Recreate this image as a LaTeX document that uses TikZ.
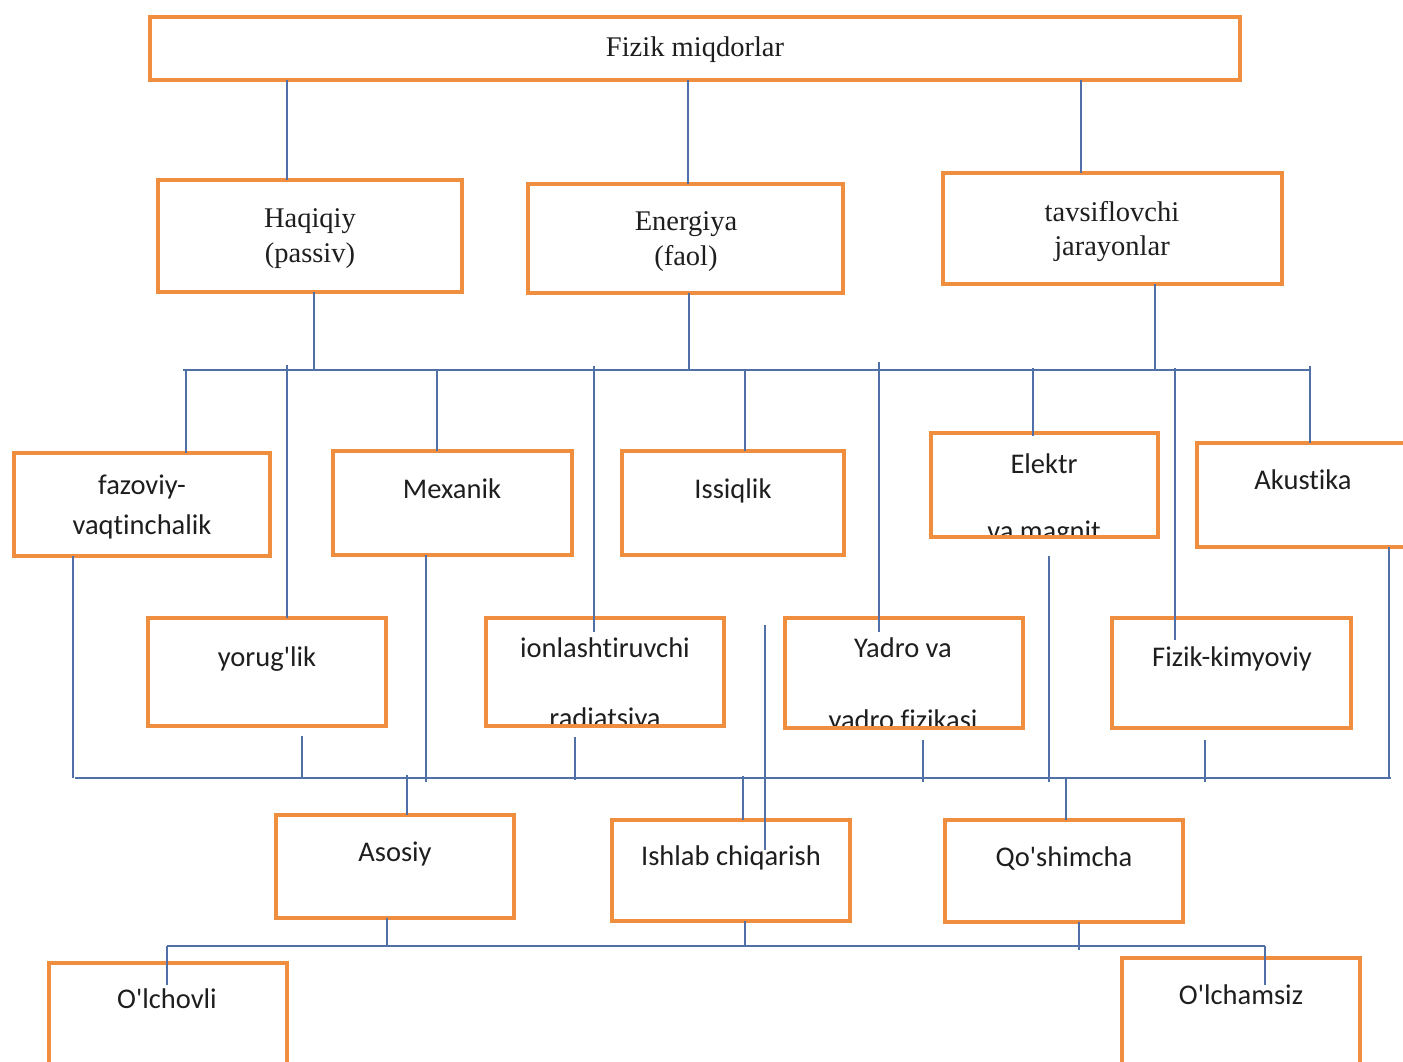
\documentclass[tikz,border=0pt]{standalone}
\usepackage{fontspec}
\setmainfont{Liberation Serif}
\newfontfamily\calfont[Ligatures=NoCommon]{Carlito}
\definecolor{boxor}{RGB}{238,142,62}
\definecolor{lnblue}{RGB}{82,112,168}
\definecolor{txtc}{RGB}{30,30,30}
\tikzset{
  box/.style={draw=boxor, line width=4.5pt, inner sep=0pt, outer sep=0pt},
  conn/.style={draw=lnblue, line width=1.6pt},
  serT/.style={anchor=base, inner sep=0pt, text=txtc, font=\fontsize{28.5}{34}\selectfont},
  sanT/.style={anchor=base, inner sep=0pt, text=txtc, font=\calfont\fontsize{28.5}{34}\selectfont},
}
\begin{document}
\begin{tikzpicture}[x=1pt,y=-1pt]
\useasboundingbox (0,0) rectangle (1403,1061);
% ---------- boxes ----------
\node[box, minimum width=1090pt, minimum height=63pt]  (top) at (695,48.5) {};
\node[box, minimum width=304pt, minimum height=112pt]  (haq) at (310,236) {};
\node[box, minimum width=315pt, minimum height=109pt]  (ene) at (685.5,238.5) {};
\node[box, minimum width=339pt, minimum height=111pt]  (tav) at (1112.5,228.5) {};
\node[box, minimum width=256pt, minimum height=103pt]  (faz) at (142,504.5) {};
\node[box, minimum width=239pt, minimum height=104pt]  (mex) at (452.5,503) {};
\node[box, minimum width=222pt, minimum height=104pt]  (iss) at (733,503) {};
\node[box, minimum width=227pt, minimum height=104pt]  (ele) at (1044.5,485) {};
\node[box, minimum width=213pt, minimum height=104pt]  (aku) at (1303.5,495) {};
\node[box, minimum width=238pt, minimum height=108pt]  (yor) at (267,672) {};
\node[box, minimum width=238pt, minimum height=108pt]  (ion) at (605,672) {};
\node[box, minimum width=238pt, minimum height=110pt]  (yad) at (904,673) {};
\node[box, minimum width=239pt, minimum height=110pt]  (fk)  at (1231.5,673) {};
\node[box, minimum width=238pt, minimum height=103pt]  (aso) at (395,866.5) {};
\node[box, minimum width=238pt, minimum height=101pt]  (ish) at (731,870.5) {};
\node[box, minimum width=238pt, minimum height=102pt]  (qos) at (1064,871) {};
\node[box, minimum width=238pt, minimum height=112pt]  (olv) at (168,1019) {};
\node[box, minimum width=238pt, minimum height=112pt]  (olm) at (1241,1014) {};
% ---------- texts ----------
\node[serT] (topT) at (695,56) {Fizik miqdorlar};
\node[serT] (haqT1) at (310,227) {Haqiqiy};
\node[serT] (haqT2) at (310,262) {(passiv)};
\node[serT] (eneT1) at (686,230) {Energiya};
\node[serT] (eneT2) at (686,265) {(faol)};
\node[serT] (tavT1) at (1112,221) {tavsiflovchi};
\node[serT] (tavT2) at (1112,255) {jarayonlar};
\node[sanT] (fazT1) at (142,494) {fazoviy-};
\node[sanT] (fazT2) at (142,534) {vaqtinchalik};
\node[sanT] (mexT) at (452,498) {Mexanik};
\node[sanT] (issT) at (733,498) {Issiqlik};
\node[sanT] (eleT1) at (1044,473) {Elektr};
\begin{scope}
  \clip ([yshift=2.25pt]ele.south west) rectangle (ele.north east);
  \node[sanT] (eleT2) at (1044,540) {va magnit};
\end{scope}
\node[sanT] (akuT) at (1303,489) {Akustika};
\node[sanT] (yorT) at (267,666) {yorug'lik};
\node[sanT] (ionT1) at (605,657) {ionlashtiruvchi};
\begin{scope}
  \clip ([yshift=2.25pt]ion.south west) rectangle (ion.north east);
  \node[sanT] (ionT2) at (605,727) {radiatsiya};
\end{scope}
\node[sanT] (yadT1) at (903,657) {Yadro va};
\begin{scope}
  \clip ([yshift=2.25pt]yad.south west) rectangle (yad.north east);
  \node[sanT] (yadT2) at (903,729) {yadro fizikasi};
\end{scope}
\node[sanT] (fkT) at (1232,666) {Fizik-kimyoviy};
\node[sanT] (asoT) at (395,861) {Asosiy};
\node[sanT] (ishT) at (731,865) {Ishlab chiqarish};
\node[sanT] (qosT) at (1064,866) {Qo'shimcha};
\node[sanT] (olvT) at (167,1008) {O'lchovli};
\node[sanT] (olmT) at (1241,1004) {O'lchamsiz};
% ---------- connectors: top level ----------
\coordinate (t1) at (287,0);
\coordinate (t2) at (688,0);
\coordinate (t3) at (1081,0);
\draw[conn] (t1 |- top.south) -- (t1 |- haq.north);
\draw[conn] (t2 |- top.south) -- (t2 |- ene.north);
\draw[conn] (t3 |- top.south) -- (t3 |- tav.north);
% ---------- upper bus ----------
\coordinate (b1L) at (183,370);
\coordinate (b1R) at (1311,370);
\draw[conn] (b1L) -- (b1R);
\coordinate (u1) at (314,370);
\coordinate (u2) at (689,370);
\coordinate (u3) at (1155,370);
\draw[conn] (u1 |- haq.south) -- (u1);
\draw[conn] (u2 |- ene.south) -- (u2);
\draw[conn] (u3 |- tav.south) -- (u3);
\coordinate (d1) at (186,370);
\coordinate (d2) at (287,365);
\coordinate (d3) at (437,370);
\coordinate (d4) at (594,366);
\coordinate (d4e) at (594,632);
\coordinate (d5) at (745,370);
\coordinate (d6) at (879,362);
\coordinate (d6e) at (879,632);
\coordinate (d7) at (1033,368);
\coordinate (d8) at (1175,368);
\coordinate (d8e) at (1175,640);
\coordinate (d9) at (1310,366);
\draw[conn] (d1) -- (d1 |- faz.north);
\draw[conn] (d2) -- (d2 |- yor.north);
\draw[conn] (d3) -- (d3 |- mex.north);
\draw[conn] (d4) -- (d4e);
\draw[conn] (d5) -- (d5 |- iss.north);
\draw[conn] (d6) -- (d6e);
\draw[conn] (d7) -- ([yshift=-3pt]d7 |- ele.north);
\draw[conn] (d8) -- (d8e);
\draw[conn] (d9) -- (d9 |- aku.north);
% ---------- lower bus ----------
\coordinate (b2L) at (75,778);
\coordinate (b2R) at (1391,778);
\draw[conn] (b2L) -- (b2R);
\coordinate (e1) at (73,778);
\coordinate (e2s) at (302,736);
\coordinate (e2) at (302,778);
\coordinate (e3) at (426,782);
\coordinate (e4s) at (575,737);
\coordinate (e4) at (575,780);
\coordinate (e5s) at (765,625);
\coordinate (e5) at (765,850);
\coordinate (e6s) at (923,740);
\coordinate (e6) at (923,782);
\coordinate (e7s) at (1049,556);
\coordinate (e7) at (1049,782);
\coordinate (e8s) at (1205,740);
\coordinate (e8) at (1205,782);
\coordinate (e9) at (1389,778);
\draw[conn] (e1 |- faz.south) -- (e1);
\draw[conn] (e2s) -- (e2);
\draw[conn] (e3 |- mex.south) -- (e3);
\draw[conn] (e4s) -- (e4);
\draw[conn] (e5s) -- (e5);
\draw[conn] (e6s) -- (e6);
\draw[conn] (e7s) -- (e7);
\draw[conn] (e8s) -- (e8);
\draw[conn] (e9 |- aku.south) -- (e9);
\coordinate (f1) at (407,775);
\coordinate (f2) at (743,776);
\coordinate (f3) at (1066,778);
\draw[conn] (f1) -- (f1 |- aso.north);
\draw[conn] (f2) -- (f2 |- ish.north);
\draw[conn] (f3) -- (f3 |- qos.north);
% ---------- bottom bus ----------
\coordinate (b3L) at (167,946);
\coordinate (b3R) at (1265,946);
\draw[conn] (b3L) -- (b3R);
\coordinate (g1) at (387,946);
\coordinate (g2) at (745,946);
\coordinate (g3) at (1079,950);
\draw[conn] (g1 |- aso.south) -- (g1);
\draw[conn] (g2 |- ish.south) -- (g2);
\draw[conn] (g3 |- qos.south) -- (g3);
\coordinate (h1) at (167,985);
\coordinate (h2) at (1265,985);
\draw[conn] (b3L) -- (h1);
\draw[conn] (b3R) -- (h2);
\end{tikzpicture}
\end{document}
